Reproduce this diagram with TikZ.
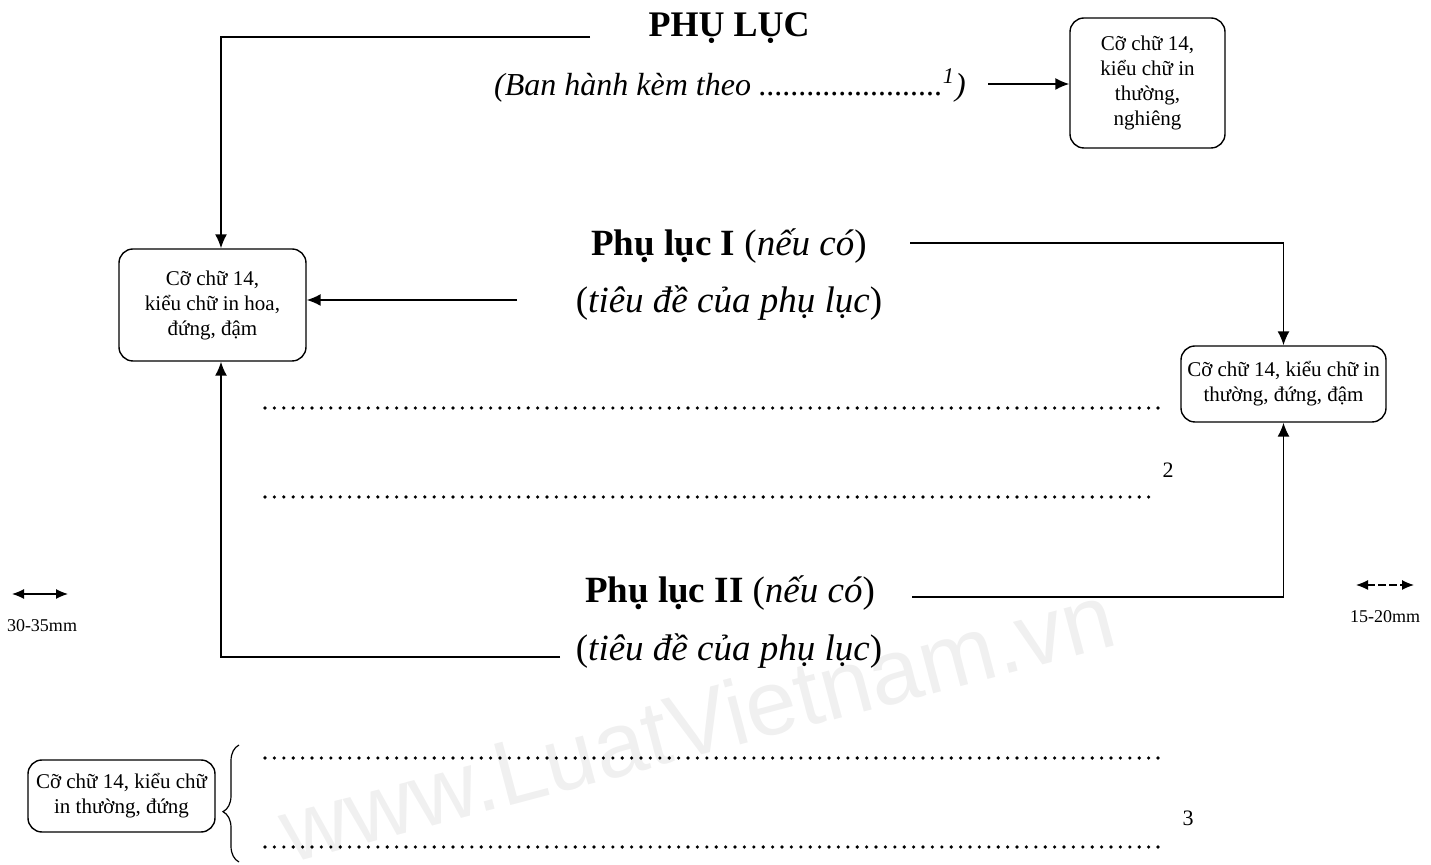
\documentclass[tikz,border=0pt]{standalone}
\usepackage{fontspec}
\setmainfont{Liberation Serif}
\newfontfamily\wmfont{Liberation Sans}
\usetikzlibrary{arrows.meta,decorations.pathreplacing}

\tikzset{
	infobox/.style={draw,line width=0.7pt,rounded corners=7pt,align=center,inner sep=2pt,font=\fontsize{10.5}{12.5}\selectfont},
	arr/.style={line width=0.75pt,-{Latex[length=7pt,width=6pt]}},
	dblarr/.style={line width=0.6pt,{Latex[length=6pt,width=5pt]}-{Latex[length=6pt,width=5pt]}},
	dotrow/.style={line width=1.8pt,line cap=round,dash pattern=on 0pt off 4.7pt},
	heading/.style={inner sep=0pt,anchor=base,font=\fontsize{18.5}{22}\selectfont},
	smalltxt/.style={inner sep=0pt,font=\fontsize{9}{10}\selectfont},
}

\begin{document}
\begin{tikzpicture}[x=0.5pt,y=-0.5pt]
		\useasboundingbox (0,0) rectangle (1431,865);
		
		% watermark
		\node [rotate=14.8,text=black!6,font=\wmfont\fontsize{46}{50}\selectfont] (wm) at (697,722) {www.LuatVietnam.vn};
		
		% headings
		\node [heading,font=\fontsize{18}{22}\selectfont\bfseries] (title) at (729,37) {PHỤ LỤC};
		\node [heading,font=\fontsize{16}{19}\selectfont\itshape] (issued) at (730,96) {(Ban hành kèm theo .......................\textsuperscript{1})};
		\node [heading] (pl1) at (729,256) {\textbf{Phụ lục I} (\textit{nếu có})};
		\node [heading] (tt1) at (729,313) {(\textit{tiêu đề của phụ lục})};
		\node [heading] (pl2) at (730,603) {\textbf{Phụ lục II} (\textit{nếu có})};
		\node [heading] (tt2) at (729,661) {(\textit{tiêu đề của phụ lục})};
		
		% boxes
		\node [infobox,minimum width=77.5pt,minimum height=65pt] (boxT) at (1147.5,83) {Cỡ chữ 14,\\kiểu chữ in\\thường,\\nghiêng};
		\node [infobox,minimum width=93.5pt,minimum height=56pt] (boxL) at (212.5,305) {Cỡ chữ 14,\\kiểu chữ in hoa,\\đứng, đậm};
		\node [infobox,minimum width=102.5pt,minimum height=38pt] (boxR) at (1283.5,384) {Cỡ chữ 14, kiểu chữ in\\thường, đứng, đậm};
		\node [infobox,minimum width=93.5pt,minimum height=36pt] (boxB) at (121.5,796) {Cỡ chữ 14, kiểu chữ\\in thường, đứng};
		
		% connectors
		\coordinate (colL) at (221,0);
		\coordinate (t1) at (590,37);
		\coordinate (c1) at (988,84);
		\coordinate (a1) at (517,300);
		\coordinate (a2) at (560,657);
		\coordinate (b1) at (910,243);
		\coordinate (b2) at (912,597);
		\draw [arr] (t1) -| (colL |- boxL.north);
		\draw [arr] (c1) -- (c1 -| boxT.west);
		\draw [arr] (a1) -- (a1 -| boxL.east);
		\draw [arr] (a2) -| (colL |- boxL.south);
		\draw [arr] (b1) -| (boxR.north);
		\draw [arr] (b2) -| (boxR.south);
		
		% dotted rows
		\coordinate (d1s) at (265,408); \coordinate (d1e) at (1158,408);
		\coordinate (d2s) at (265,497); \coordinate (d2e) at (1150,497);
		\coordinate (d3s) at (265,758); \coordinate (d3e) at (1162,758);
		\coordinate (d4s) at (265,847); \coordinate (d4e) at (1165,847);
		\draw [dotrow] (d1s)--(d1e);
		\draw [dotrow] (d2s)--(d2e);
		\draw [dotrow] (d3s)--(d3e);
		\draw [dotrow] (d4s)--(d4e);
		\node [smalltxt,font=\fontsize{11}{12}\selectfont] (n2) at (1168,470) {2};
		\node [smalltxt,font=\fontsize{11}{12}\selectfont] (n3) at (1188,818) {3};
		
		% margins
		\coordinate (m1a) at (12,594); \coordinate (m1b) at (68,594);
		\coordinate (m2a) at (1356,585); \coordinate (m2b) at (1414,585);
		\draw [dblarr] (m1a)--(m1b);
		\draw [dblarr,dash pattern=on 4pt off 1.5pt] (m2a)--(m2b);
		\node [smalltxt] (m1) at (42,626) {30-35mm};
		\node [smalltxt] (m2) at (1385,617) {15-20mm};
		
		% brace
		\coordinate (br1) at (239,862);
		\coordinate (br2) at (239,745);
		\draw [line width=0.6pt,decorate,decoration={brace,amplitude=8pt,aspect=0.43}] (br1)--(br2);
	
	\end{tikzpicture}
\end{document}
